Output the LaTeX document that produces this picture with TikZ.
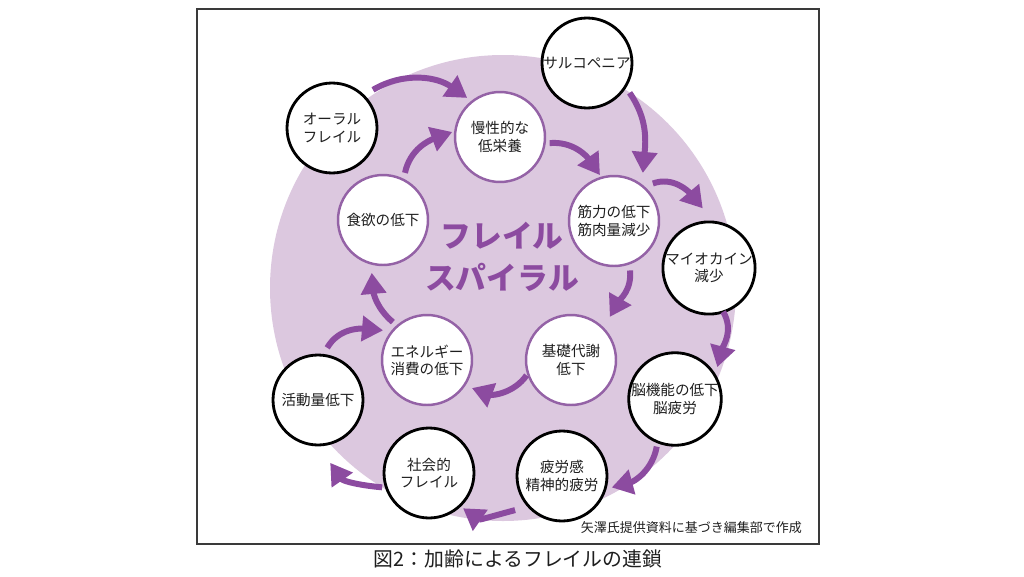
\documentclass[tikz,border=0pt]{standalone}
\usepackage{fontspec}
\setmainfont{Noto Sans CJK JP}
\usetikzlibrary{arrows.meta}

\definecolor{spiralpurple}{HTML}{8C4BA0}
\definecolor{ringpurple}{HTML}{9462A6}
\definecolor{lavender}{HTML}{DCC8DF}
\definecolor{framegray}{HTML}{3A3A3A}
\definecolor{textgray}{HTML}{1E1E1E}

\tikzset{
  outerbox/.style={circle, draw=black, line width=1.6pt, fill=white,
    minimum size=1.8cm, inner sep=0pt, align=center, text=textgray,
    font=\fontsize{8.3}{9.8}\selectfont},
  innerbox/.style={outerbox, draw=ringpurple, line width=1.4pt},
  spiralarrow/.style={draw=spiralpurple, line width=3.4pt,
    -{Triangle[length=12pt,width=14pt]}},
}

\begin{document}
\begin{tikzpicture}[x=0.02cm, y=0.02cm]
  \useasboundingbox (0,0) rectangle (1024,576);

  % frame and background disc
  \draw[framegray, line width=1.1pt] (197,32) rectangle (819,567);
  \fill[lavender] (503,288) circle (233);

  % outer ring
  \node[outerbox] (oral) at (332,448) {オーラル\\フレイル};
  \node[outerbox] (sarco) at (587,513) {サルコペニア};
  \node[outerbox] (myo) at (709,308) {マイオカイン\\減少};
  \node[outerbox] (brain) at (675,177) {脳機能の低下\\脳疲労};
  \node[outerbox] (fatigue) at (562,100) {疲労感\\精神的疲労};
  \node[outerbox] (social) at (429,103) {社会的\\フレイル};
  \node[outerbox] (activity) at (318,176) {活動量低下};

  % inner ring
  \node[innerbox] (teiei) at (500,439) {慢性的な\\低栄養};
  \node[innerbox] (kinryoku) at (614,355) {筋力の低下\\筋肉量減少};
  \node[innerbox] (kiso) at (571,216) {基礎代謝\\低下};
  \node[innerbox] (energy) at (427,216) {エネルギー\\消費の低下};
  \node[innerbox] (shokuyoku) at (383,356) {食欲の低下};

  \node[font=\bfseries\fontsize{17.5}{23.8}\selectfont, text=spiralpurple, align=center]
    (title) at (502,319) {フレイル\\スパイラル};

  % arrows
  \draw[spiralarrow] ([shift={(43:56)}]oral.center) to[out=30,in=145] ([shift={(130:51)}]teiei.center);
  \draw[spiralarrow] ([shift={(65:52)}]shokuyoku.center) to[out=78,in=200] ([shift={(174:48)}]teiei.center);
  \draw[spiralarrow] ([shift={(-7:50)}]teiei.center) to[out=5,in=125] ([shift={(107:48)}]kinryoku.center);
  \draw[spiralarrow] ([shift={(-35:52)}]sarco.center) to[out=-55,in=85] ([shift={(59:56)}]kinryoku.center);
  \draw[spiralarrow] ([shift={(44:54)}]kinryoku.center) to[out=20,in=130] ([shift={(96:60)}]myo.center);
  \draw[spiralarrow] ([shift={(-72:52)}]kinryoku.center) to[out=-85,in=60] ([shift={(48:58)}]kiso.center);
  \draw[spiralarrow] ([shift={(-72:46)}]myo.center) to[out=-60,in=75] ([shift={(37:53)}]brain.center);
  \draw[spiralarrow] ([shift={(199:47)}]kiso.center) to[out=235,in=-20] ([shift={(-32:53)}]energy.center);
  \draw[spiralarrow] ([shift={(-111:51)}]brain.center) to[out=-100,in=15] ([shift={(-13:51)}]fatigue.center);
  \draw[spiralarrow] ([shift={(216:58)}]fatigue.center) to[out=195,in=-35] ([shift={(-46:49)}]social.center);
  \draw[spiralarrow] ([shift={(197:49)}]social.center) to[out=175,in=-55] ([shift={(-79:64)}]activity.center);
  \draw[spiralarrow] ([shift={(80:53)}]activity.center) to[out=60,in=175] ([shift={(146:53)}]energy.center);
  \draw[spiralarrow] ([shift={(132:51)}]energy.center) to[out=140,in=-85] ([shift={(-102:54)}]shokuyoku.center);

  % captions
  \node[anchor=east, font=\fontsize{7.4}{9}\selectfont, text=textgray] (credit) at (808,48)
    {矢澤氏提供資料に基づき編集部で作成};
  \node[font=\fontsize{11.3}{13}\selectfont, text=textgray] (caption) at (518,17)
    {図2：加齢によるフレイルの連鎖};
\end{tikzpicture}
\end{document}
